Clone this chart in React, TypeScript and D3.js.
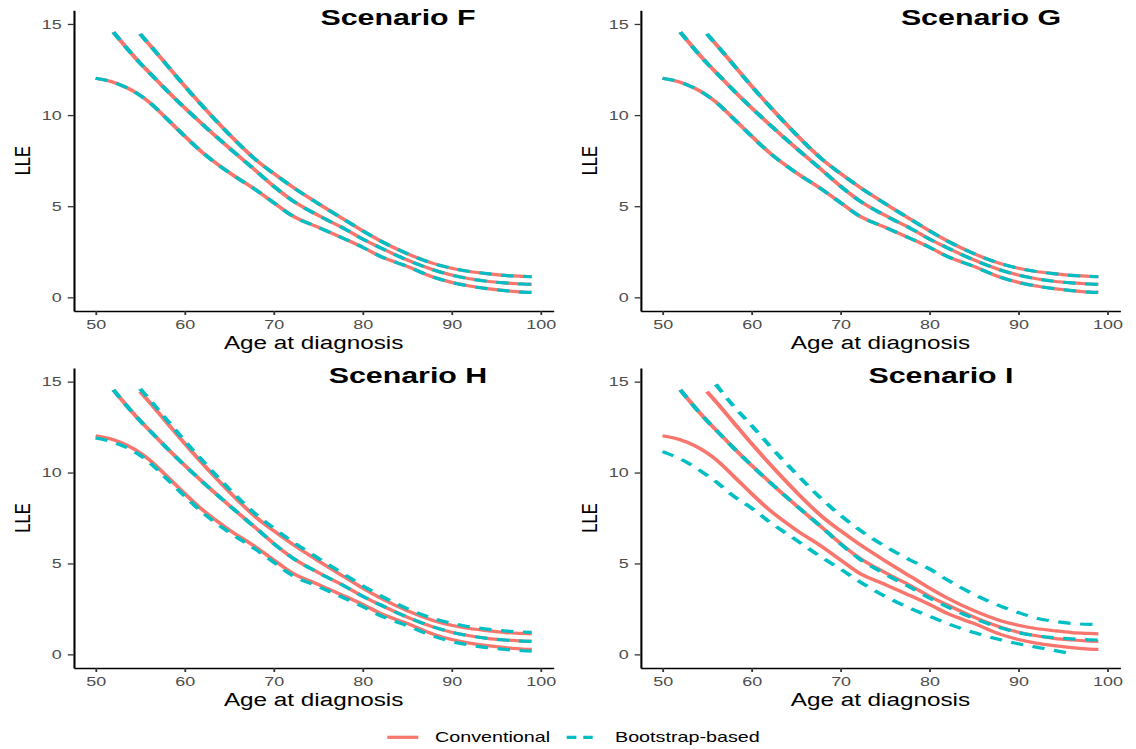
import React, { useEffect, useRef } from "react";
import * as d3 from "d3";

const ages = [50, 52, 55, 56, 58, 60, 62, 65, 68, 70, 72, 75, 78, 80, 82, 85, 88, 90, 92, 94, 96, 98, 99];

// conventional CI + estimate (same in all four scenarios)
const convLower = [12.02, 11.8, 11.08, 10.72, 9.8, 8.85, 7.95, 6.85, 5.9, 5.2, 4.5, 3.85, 3.2, 2.75, 2.25, 1.7, 1.1, 0.82, 0.62, 0.48, 0.37, 0.29, 0.27];
const convEst = [null, 14.55, 12.85, 12.35, 11.35, 10.4, 9.5, 8.2, 6.95, 6.1, 5.35, 4.5, 3.75, 3.2, 2.72, 2.05, 1.5, 1.22, 1.02, 0.88, 0.79, 0.73, 0.71];
const convUpper = [null, null, 14.45, 13.9, 12.75, 11.6, 10.5, 8.95, 7.55, 6.8, 6.1, 5.15, 4.25, 3.65, 3.1, 2.4, 1.85, 1.6, 1.42, 1.3, 1.2, 1.15, 1.13];

// bootstrap-based, scenario H (slightly wider than conventional)
const bootLowerH = [11.9, 11.67, 10.95, 10.58, 9.66, 8.71, 7.81, 6.72, 5.77, 5.07, 4.38, 3.73, 3.08, 2.63, 2.13, 1.58, 0.99, 0.71, 0.51, 0.37, 0.27, 0.2, 0.18];
const bootUpperH = [null, null, 14.6, 14.05, 12.9, 11.75, 10.65, 9.1, 7.7, 6.95, 6.24, 5.29, 4.38, 3.78, 3.23, 2.52, 1.96, 1.71, 1.52, 1.39, 1.29, 1.23, 1.21];

// bootstrap-based, scenario I
const bootLowerI = [11.15, 10.75, 9.85, 9.5, 8.7, 8.05, 7.3, 6.3, 5.3, 4.7, 4.05, 3.2, 2.5, 2.1, 1.7, 1.2, 0.8, 0.58, 0.4, 0.22, 0.03, null, null];
const bootEstI = [null, 14.55, 12.85, 12.35, 11.35, 10.4, 9.5, 8.2, 6.95, 6.08, 5.3, 4.42, 3.65, 3.1, 2.62, 1.98, 1.46, 1.2, 1.02, 0.92, 0.85, 0.8, 0.79];
const bootUpperI = [null, null, null, 14.85, 13.65, 12.6, 11.5, 9.95, 8.5, 7.65, 6.9, 5.95, 5.15, 4.7, 4.1, 3.3, 2.65, 2.3, 2.0, 1.82, 1.7, 1.65, 1.64];

const titles = ["Scenario F", "Scenario G", "Scenario H", "Scenario I"];
const xTicks = [50, 60, 70, 80, 90, 100];
const yTicks = [0, 5, 10, 15];
const legendLabels = ["Conventional", "Bootstrap-based"];

const panels = [
  { conv: [convLower, convEst, convUpper], boot: [convLower, convEst, convUpper] },
  { conv: [convLower, convEst, convUpper], boot: [convLower, convEst, convUpper] },
  { conv: [convLower, convEst, convUpper], boot: [bootLowerH, convEst, bootUpperH] },
  { conv: [convLower, convEst, convUpper], boot: [bootLowerI, bootEstI, bootUpperI] },
];

const RED = "#F8766D";
const CYAN = "#00BFC4";
const FONT = "'Liberation Sans', Arial, Helvetica, sans-serif";
const S = 1.38; // the picture is stretched horizontally

export default function App() {
  const ref = useRef<SVGSVGElement>(null);

  useEffect(() => {
    const svg = d3.select(ref.current).attr("width", 1136).attr("height", 749);
    svg.selectAll("*").remove();
    const root = svg.append("g").attr("transform", `scale(${S},1)`).attr("font-family", FONT);

    const cols = [[73.8, 553.5], [640.7, 1120.2]];
    const rows = [[10.3, 311], [368, 668]];
    const titleX = [398, 981, 408, 941];

    panels.forEach((p, i) => {
      const [cx0, cx1] = cols[i % 2];
      const [ry0, ry1] = rows[Math.floor(i / 2)];
      const x = d3.scaleLinear().domain([47.55, 101.45]).range([cx0 / S, cx1 / S]);
      const y = d3.scaleLinear().domain([-0.75, 15.75]).range([ry1, ry0]);
      const g = root.append("g");

      const line = d3.line<number | null>()
        .defined(d => d != null)
        .x((d, j) => x(ages[j]))
        .y(d => y(d as number))
        .curve(d3.curveMonotoneX);

      p.conv.forEach(vals => {
        g.append("path").attr("d", line(vals)).attr("fill", "none")
          .attr("stroke", RED).attr("stroke-width", 3.2);
      });
      p.boot.forEach(vals => {
        g.append("path").attr("d", line(vals)).attr("fill", "none")
          .attr("stroke", CYAN).attr("stroke-width", 3.2).attr("stroke-dasharray", "9,7");
      });

      const xa = g.append("g").attr("transform", `translate(0,${ry1})`)
        .call(d3.axisBottom(x).tickValues(xTicks).tickSize(4).tickSizeOuter(0).tickPadding(5));
      const ya = g.append("g").attr("transform", `translate(${cx0 / S},0)`)
        .call(d3.axisLeft(y).tickValues(yTicks).tickSize(6 / S).tickSizeOuter(0).tickPadding(6 / S));
      [xa, ya].forEach(a => {
        a.attr("font-family", FONT).attr("font-size", 13);
        a.select(".domain").attr("stroke", "#000").attr("stroke-width", 1.5);
        a.selectAll(".tick line").attr("stroke", "#333").attr("stroke-width", 1.3);
        a.selectAll(".tick text").attr("fill", "#4D4D4D");
      });

      g.append("text").attr("x", (cx0 + cx1) / 2 / S).attr("y", ry1 + 38)
        .attr("text-anchor", "middle").attr("font-size", 17.6).attr("fill", "#000")
        .text("Age at diagnosis");
      g.append("text")
        .attr("transform", `translate(${(cx0 - 43.5) / S},${(ry0 + ry1) / 2}) rotate(-90)`)
        .attr("text-anchor", "middle").attr("font-size", 16.5).attr("fill", "#000")
        .text("LLE");
      g.append("text").attr("x", titleX[i] / S).attr("y", ry0 + 14.8)
        .attr("text-anchor", "middle").attr("font-size", 22).attr("font-weight", "bold")
        .attr("fill", "#000").text(titles[i]);
    });

    // legend
    const lg = root.append("g").attr("transform", "translate(0,737.3)");
    lg.append("line").attr("x1", 387.3 / S).attr("x2", 418.3 / S)
      .attr("stroke", RED).attr("stroke-width", 3.2);
    lg.append("text").attr("x", 435 / S).attr("y", 5).attr("font-size", 14.3).attr("fill", "#000")
      .text(legendLabels[0]);
    lg.append("line").attr("x1", 566.7 / S).attr("x2", 592.7 / S)
      .attr("stroke", CYAN).attr("stroke-width", 3.2).attr("stroke-dasharray", "7,5");
    lg.append("text").attr("x", 615 / S).attr("y", 5).attr("font-size", 14.3).attr("fill", "#000")
      .text(legendLabels[1]);
  }, []);

  return <svg ref={ref} style={{ position: "absolute", left: 0, top: 0 }} />;
}
